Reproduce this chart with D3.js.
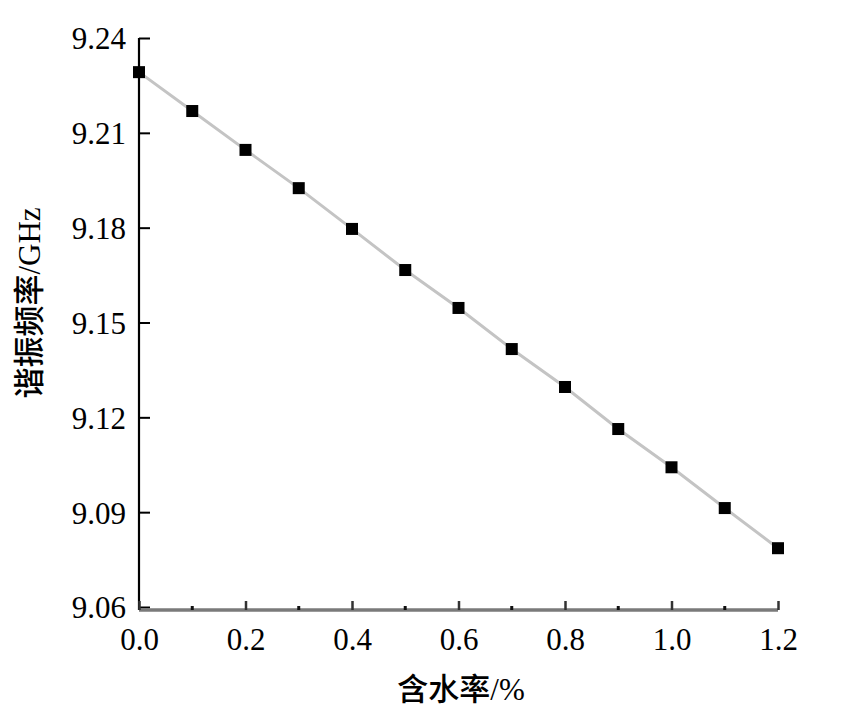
<!DOCTYPE html>
<html>
<head>
<meta charset="utf-8">
<script src="https://cdn.jsdelivr.net/npm/d3@7"></script>
<style>
  body { margin: 0; background: #fff; }
  svg text { font-family: "Liberation Serif", "Times New Roman", serif; }
  .cjk { font-family: "Noto Sans CJK SC", "Liberation Serif", serif; font-weight: 500; }
</style>
</head>
<body>
<div id="chart"></div>
<script>
// data
var moisture = [0.0, 0.1, 0.2, 0.3, 0.4, 0.5, 0.6, 0.7, 0.8, 0.9, 1.0, 1.1, 1.2];
var freq = [9.2292, 9.2169, 9.2046, 9.1925, 9.1796, 9.1666, 9.1546, 9.1416, 9.1296, 9.1163, 9.1042, 9.0913, 9.0786];
var yTicks = [9.06, 9.09, 9.12, 9.15, 9.18, 9.21, 9.24];
var xTicks = [0.0, 0.2, 0.4, 0.6, 0.8, 1.0, 1.2];
var xMinorTicks = [0.1, 0.3, 0.5, 0.7, 0.9, 1.1];

var width = 856, height = 714;
var margin = {top: 38, right: 78, bottom: 104, left: 139};

var x = d3.scaleLinear()
    .domain([0, 1.2])
    .range([margin.left, width - margin.right]);

var y = d3.scaleLinear()
    .domain([9.06, 9.24])
    .range([height - margin.bottom - 3, margin.top]);

var svg = d3.select("#chart").append("svg")
    .attr("width", width)
    .attr("height", height);

var data = moisture.map(function(m, i) { return {m: m, f: freq[i]}; });

// y axis (black, ticks inward)
var yAxis = svg.append("g")
    .attr("transform", "translate(" + x(0) + ",0)")
    .call(d3.axisRight(y).tickValues(yTicks).tickSize(11).tickFormat(d3.format(".2f")));
yAxis.select(".domain").attr("stroke", "#000").attr("stroke-width", 2.2)
    .attr("d", "M0," + y(9.24) + "V" + (y(9.06) + 3));
yAxis.selectAll(".tick line").attr("stroke", "#000").attr("stroke-width", 2);
yAxis.selectAll(".tick text")
    .attr("x", -13)
    .attr("text-anchor", "end")
    .attr("dy", "0.35em")
    .style("font-size", "31px")
    .attr("fill", "#000");

// x axis (grey, thick)
var xAxisY = y(9.06) + 3;
var xAxis = svg.append("g")
    .attr("transform", "translate(0," + xAxisY + ")")
    .call(d3.axisTop(x).tickValues(xTicks).tickSize(9).tickFormat(d3.format(".1f")));
xAxis.select(".domain").attr("stroke", "#7a7a7a").attr("stroke-width", 3.5)
    .attr("d", "M" + x(0) + ",0H" + x(1.2));
xAxis.selectAll(".tick line").attr("stroke", "#333").attr("stroke-width", 2.5);
xAxis.selectAll(".tick text")
    .attr("y", 40)
    .attr("dy", "0")
    .style("font-size", "31px")
    .attr("fill", "#000");

svg.append("g").selectAll("line.minor")
    .data(xMinorTicks)
    .enter().append("line")
    .attr("x1", function(d) { return x(d); })
    .attr("x2", function(d) { return x(d); })
    .attr("y1", xAxisY - 4)
    .attr("y2", xAxisY)
    .attr("stroke", "#111")
    .attr("stroke-width", 3);

// line
var line = d3.line()
    .x(function(d) { return x(d.m); })
    .y(function(d) { return y(d.f); });

svg.append("path")
    .datum(data)
    .attr("fill", "none")
    .attr("stroke", "#c4c4c4")
    .attr("stroke-width", 3)
    .attr("d", line);

// square markers
var s = 12;
svg.append("g").selectAll("rect")
    .data(data)
    .enter().append("rect")
    .attr("x", function(d) { return x(d.m) - s / 2; })
    .attr("y", function(d) { return y(d.f) - s / 2; })
    .attr("width", s)
    .attr("height", s)
    .attr("fill", "#000");

// axis titles
var xt = svg.append("text")
    .attr("x", 461)
    .attr("y", 700)
    .attr("text-anchor", "middle")
    .style("font-size", "31px");
xt.append("tspan").attr("class", "cjk").text("含水率");
xt.append("tspan").text("/%");

var yt = svg.append("text")
    .attr("transform", "translate(40,303) rotate(-90)")
    .attr("text-anchor", "middle")
    .style("font-size", "31px");
yt.append("tspan").attr("class", "cjk").text("谐振频率");
yt.append("tspan").text("/GHz");
</script>
</body>
</html>
